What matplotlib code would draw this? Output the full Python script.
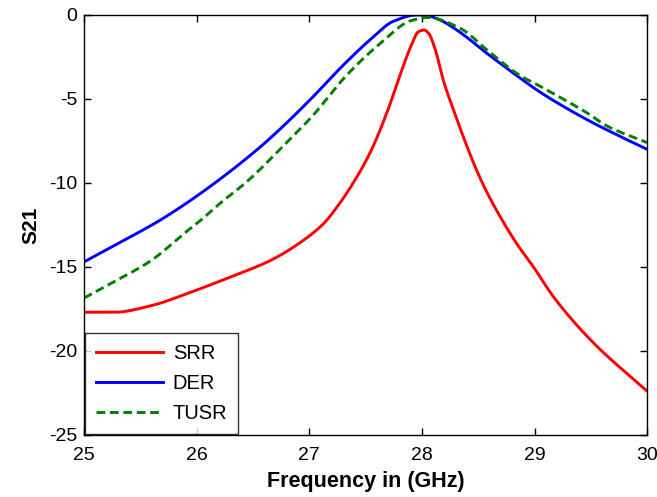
import matplotlib
matplotlib.use('Agg')
import numpy as np
import matplotlib.pyplot as plt

plt.rcParams['font.family'] = ['Liberation Sans', 'DejaVu Sans']

# ===== 数据 =====
freq_srr = [25.0, 25.27, 25.6, 25.95, 26.3, 26.66, 26.93, 27.13, 27.25, 27.39, 27.54, 27.69,
            27.81, 27.9, 27.97, 28.02, 28.06, 28.12, 28.19, 28.28, 28.37, 28.47, 28.58, 28.72,
            28.85, 28.99, 29.17, 29.52, 29.88, 30.0]
s21_srr = [-17.7, -17.7, -17.3, -16.5, -15.6, -14.6, -13.5, -12.4, -11.4, -10.0, -8.2, -5.8,
           -3.5, -1.9, -1.0, -0.9, -1.1, -2.1, -3.9, -5.65, -7.3, -9.0, -10.6, -12.3,
           -13.7, -15.0, -16.8, -19.5, -21.7, -22.4]

freq_der = [25.0, 25.36, 25.68, 26.06, 26.54, 26.74, 27.0, 27.33, 27.57, 27.74, 27.96, 28.05,
            28.16, 28.31, 28.58, 28.87, 29.05, 29.47, 29.75, 30.0]
s21_der = [-14.7, -13.4, -12.2, -10.5, -8.0, -6.8, -5.1, -2.8, -1.3, -0.4, 0.0, -0.05,
           -0.3, -0.9, -2.3, -3.75, -4.6, -6.25, -7.2, -8.0]

freq_tusr = [25.0, 25.29, 25.6, 25.89, 26.04, 26.21, 26.45, 26.74, 27.03, 27.33, 27.63, 27.9,
             28.05, 28.34, 28.58, 28.87, 29.05, 29.47, 29.64, 30.0]
s21_tusr = [-16.85, -15.8, -14.6, -13.0, -12.2, -11.2, -9.9, -8.0, -6.0, -3.6, -1.7, -0.35,
            -0.15, -0.8, -2.1, -3.6, -4.25, -5.85, -6.6, -7.6]

labels = ['SRR', 'DER', 'TUSR']


def pchip(xs, ys, n=600):
    """分段三次Hermite单调插值（Fritsch-Carlson），只用于把读取的点连成平滑曲线"""
    x = np.asarray(xs, float)
    y = np.asarray(ys, float)
    h = np.diff(x)
    d = np.diff(y) / h
    m = np.zeros_like(y)
    for i in range(1, len(x) - 1):
        if d[i - 1] * d[i] > 0:
            w1 = 2 * h[i] + h[i - 1]
            w2 = h[i] + 2 * h[i - 1]
            m[i] = (w1 + w2) / (w1 / d[i - 1] + w2 / d[i])
    m[0] = d[0]
    m[-1] = d[-1]
    xx = np.linspace(x[0], x[-1], n)
    k = np.clip(np.searchsorted(x, xx) - 1, 0, len(x) - 2)
    t = (xx - x[k]) / h[k]
    h00 = 2 * t**3 - 3 * t**2 + 1
    h10 = t**3 - 2 * t**2 + t
    h01 = -2 * t**3 + 3 * t**2
    h11 = t**3 - t**2
    yy = h00 * y[k] + h10 * h[k] * m[k] + h01 * y[k + 1] + h11 * h[k] * m[k + 1]
    return xx, yy


fig = plt.figure(figsize=(6.57, 4.97), dpi=100)
ax = fig.add_axes([0.128, 0.125, 0.857, 0.845])

x, y = pchip(freq_srr, s21_srr)
ax.plot(x, y, color='#ff0000', lw=2.1, label=labels[0])
x, y = pchip(freq_der, s21_der)
ax.plot(x, y, color='#0000ff', lw=2.1, label=labels[1])
x, y = pchip(freq_tusr, s21_tusr)
ax.plot(x, y, color='#008000', lw=2.1, ls='--', dashes=(3, 1.6), label=labels[2])

ax.set_xlim(25, 30)
ax.set_ylim(-25, 0)
ax.set_xticks([25, 26, 27, 28, 29, 30])
ax.set_yticks([-25, -20, -15, -10, -5, 0])
ax.set_yticklabels(['-25', '-20', '-15', '-10', '-5', '0'])
ax.tick_params(direction='in', top=True, right=True, labelsize=14, length=5, width=1)
ax.tick_params(axis='x', pad=9)
ax.tick_params(axis='y', pad=5)
for sp in ax.spines.values():
    sp.set_linewidth(1.0)

ax.set_xlabel('Frequency in (GHz)', fontsize=15.5, fontweight='bold', labelpad=5)
ax.set_ylabel('S21', fontsize=15, fontweight='bold', labelpad=6)

leg = ax.legend(loc='lower left', fontsize=14.5, frameon=True, fancybox=False,
                edgecolor='black', borderaxespad=0.05, handlelength=3.3,
                handletextpad=0.5, labelspacing=0.55, borderpad=0.55)
leg.get_frame().set_linewidth(1.0)

fig.savefig('out.png', dpi=100, facecolor='white')
